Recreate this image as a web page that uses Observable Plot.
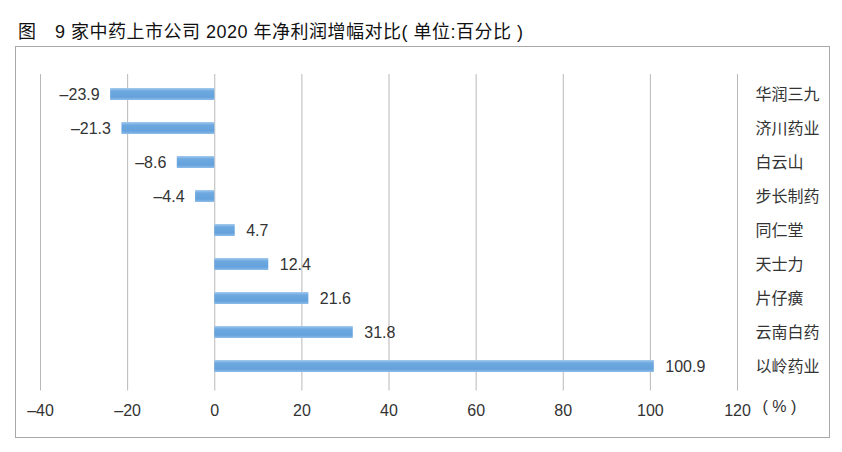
<!DOCTYPE html>
<html><head><meta charset="utf-8">
<script src="https://cdn.jsdelivr.net/npm/d3@7"></script>
<script src="https://cdn.jsdelivr.net/npm/@observablehq/plot@0.6"></script>
<style>
body{margin:0;background:#fff;width:842px;height:452px;position:relative;overflow:hidden;font-family:"Liberation Sans","Noto Sans CJK SC",sans-serif;}
#title{position:absolute;left:18px;top:17px;font-size:18px;letter-spacing:0.5px;color:#111;font-family:"Liberation Sans","Noto Sans CJK SC",sans-serif;white-space:pre;}
#box{position:absolute;left:15px;top:46px;width:813px;height:390px;border:1.5px solid #a8a8a8;}
#box svg{display:block;}
</style></head><body>
<div id="title">图　9 家中药上市公司 2020 年净利润增幅对比( 单位:百分比 )</div>
<div id="box"></div>
<script>
const companies = ["华润三九","济川药业","白云山","步长制药","同仁堂","天士力","片仔癀","云南白药","以岭药业"];
const growth = [-23.9,-21.3,-8.6,-4.4,4.7,12.4,21.6,31.8,100.9];
const xTicks = [-40,-20,0,20,40,60,80,100,120];
const unitLabel = "( % )";

const data = companies.map((c,i)=>({company:c, value:growth[i]}));
const neg = data.filter(d => d.value < 0);
const pos = data.filter(d => d.value >= 0);
const fmt = v => (v < 0 ? "–" + Math.abs(v).toFixed(1) : v.toFixed(1));
const font = `"Liberation Sans","Noto Sans CJK SC",sans-serif`;

const plot = Plot.plot({
  width: 813, height: 390,
  marginLeft: 24, marginRight: 92, marginTop: 27, marginBottom: 51,
  style: {fontFamily: font, fontSize: "16px", color: "#333", background: "transparent"},
  x: {domain: [-40,120], axis: null, label: null},
  y: {domain: companies, axis: null, paddingInner: 0.66, paddingOuter: 0.35, label: null},
  marks: [
    Plot.ruleX(xTicks, {stroke: "#b8b8b8", strokeWidth: 1, insetBottom: -4.5}),
    Plot.barX(data, {x: "value", y: "company", fill: "url(#barGrad)"}),
    Plot.text(neg, {x: "value", y: "company", text: d => fmt(d.value), textAnchor: "end", dx: -11, fill: "#333", fontSize: 16}),
    Plot.text(pos, {x: "value", y: "company", text: d => fmt(d.value), textAnchor: "start", dx: 11, fill: "#333", fontSize: 16}),
    Plot.text(data, {x: 120, y: "company", text: "company", textAnchor: "start", dx: 18, fill: "#333", fontSize: 16}),
    Plot.axisX(xTicks, {tickSize: 0, tickPadding: 0, dy: 18, label: null, tickFormat: v => v < 0 ? "–" + Math.abs(v) : String(v), fontSize: 16, fill: "#333", anchor: "bottom"}),
    Plot.text([120], {x: d => d, frameAnchor: "bottom", text: [unitLabel], textAnchor: "start", dx: 25, dy: 25, fill: "#333", fontSize: 16})
  ]
});

const defs = d3.select(plot).insert("defs", ":first-child");
const g = defs.append("linearGradient").attr("id","barGrad").attr("x1",0).attr("y1",0).attr("x2",0).attr("y2",1);
[[0,"#a6cbee"],[0.25,"#6ea9e0"],[0.75,"#64a2dc"],[1,"#8fbde8"]].forEach(([o,c])=>g.append("stop").attr("offset",o).attr("stop-color",c));

document.getElementById("box").appendChild(plot);
</script>
</body></html>
